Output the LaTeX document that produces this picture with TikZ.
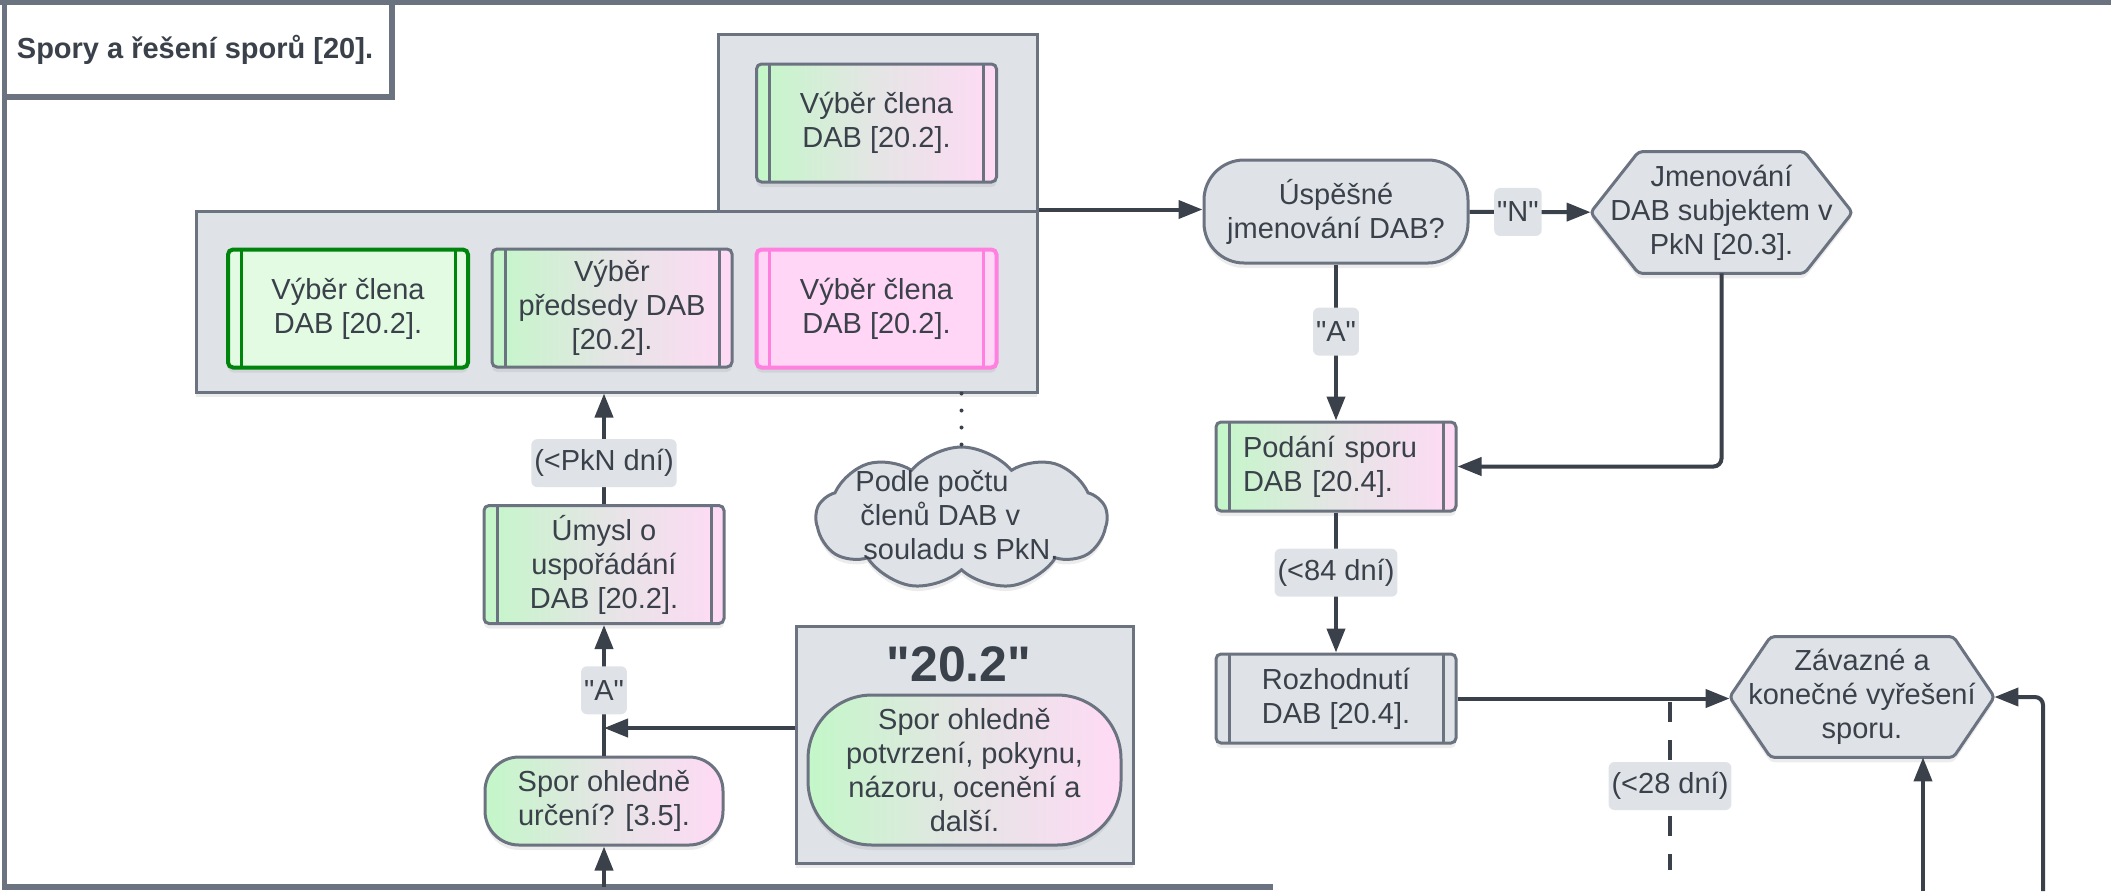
\documentclass[tikz,border=0pt]{standalone}
\usepackage{fontspec}
\setmainfont{Liberation Sans}[Ligatures=TeXOff]
\usetikzlibrary{arrows.meta,shapes.symbols,shadows,backgrounds}

\definecolor{edgegray}{RGB}{107,114,128}
\definecolor{boxgray}{RGB}{223,227,232}
\definecolor{ink}{RGB}{58,65,74}
\definecolor{okgreen}{RGB}{0,133,12}
\definecolor{okgreenfill}{RGB}{227,250,227}
\definecolor{hotpink}{RGB}{255,128,223}
\definecolor{hotpinkfill}{RGB}{255,214,245}
\definecolor{gradgreen}{RGB}{195,247,200}
\definecolor{gradmid}{RGB}{229,229,229}
\definecolor{gradpink}{RGB}{255,218,245}

\tikzset{
  txt/.style={text=ink, font=\fontsize{14.5}{17}\selectfont},
  shade/.style={drop shadow={opacity=.15, shadow xshift=0pt, shadow yshift=-2.5pt}},
  base/.style={txt, draw=edgegray, line width=1.5pt, align=center, inner sep=2pt, shade},
  grad/.style={left color=gradgreen, right color=gradpink, middle color=gradmid},
  proc/.style={base, rectangle, rounded corners=2.5pt, minimum width=120pt, minimum height=59pt,
    path picture={
      \draw[#1, line width=1.5pt]
        ([xshift=6.5pt]path picture bounding box.north west) -- ([xshift=6.5pt]path picture bounding box.south west)
        ([xshift=-6.5pt]path picture bounding box.north east) -- ([xshift=-6.5pt]path picture bounding box.south east);}},
  proc/.default=edgegray,
  term/.style={base, rectangle, rounded corners=#1},
  hexa/.style={txt, align=center, inner sep=2pt},
  hexline/.style={draw=edgegray, fill=boxgray, line width=1.5pt, rounded corners=2pt, shade},
  note/.style={base, cloud, cloud puffs=9, cloud puff arc=100, cloud ignores aspect, fill=boxgray},
  cont/.style={draw=edgegray, fill=boxgray, line width=1.5pt, shade},
  lbl/.style={txt, fill=boxgray, rounded corners=3pt, inner xsep=1.5pt, inner ysep=0pt, minimum height=24pt},
  arr/.style={draw=ink, line width=2pt, -{Triangle[length=12pt,width=9pt]}},
  frameline/.style={draw=edgegray, line width=2.8pt}
}
\newcommand{\q}[1]{"#1"}
% hexagon round a named node: node, slant
\newcommand{\hexframe}[2]{%
  \draw[hexline] (#1.west) -- ([xshift=#2]#1.north west) -- ([xshift=-#2]#1.north east)
    -- (#1.east) -- ([xshift=-#2]#1.south east) -- ([xshift=#2]#1.south west) -- cycle;}

\begin{document}
\begin{tikzpicture}[x=0.5pt, y=-0.5pt]
\useasboundingbox (0,0) rectangle (2111,891);

% frame and title
\draw[frameline] (0,2.5) -- (2111,2.5);
\draw[frameline] (4.5,0) -- (4.5,887) -- (1273,887);
\draw[frameline, fill=white] (4.5,2.5) rectangle (392,97);
\node[txt, font=\fontsize{14.5}{17}\selectfont\bfseries] (title) at (195,50) {Spory a řešení sporů [20].};

% groups
\node[cont, minimum width=159.5pt, minimum height=88.5pt] (grpA) at (877.5,122.5) {};
\node[cont, minimum width=420.5pt, minimum height=90.5pt] (grpB) at (616.5,301.5) {};
\node[cont, minimum width=168.5pt, minimum height=118.5pt] (grpC) at (964.5,744.5) {};
\node[txt, font=\fontsize{25}{28}\selectfont\bfseries] (grpCtitle) at (959,664) {\q{20.2}};

% boxes
\node[proc, grad] (vyberA) at (876.5,123) {Výběr člena\\DAB [20.2].};
\node[proc=okgreen, draw=okgreen, line width=2pt, fill=okgreenfill] (vyberG) at (348,308.5) {Výběr člena\\DAB [20.2].};
\node[proc, grad] (vyberP) at (612,308) {Výběr\\předsedy DAB\\{[20.2].}};
\node[proc=hotpink, draw=hotpink, line width=2pt, fill=hotpinkfill] (vyberR) at (876.5,308.5) {Výběr člena\\DAB [20.2].};
\node[proc, grad] (umysl) at (604,564.5) {Úmysl o\\uspořádání\\DAB [20.2].};
\node[term=17pt, grad, minimum width=119pt, minimum height=44pt] (spor) at (604,801) {Spor ohledně\\určení? [3.5].};
\node[term=32pt, grad, minimum width=156.5pt, minimum height=75pt] (sporB) at (964.5,770) {Spor ohledně\\potvrzení, pokynu,\\názoru, ocenění a\\další.};
\node[note, minimum width=145.5pt, minimum height=71.5pt] (cloud) at (961.5,518.5) {};
\node[txt, align=left] (cloudtxt) at (957,515) {Podle počtu\\\hspace{2.5pt}členů DAB v\\\hspace{4pt}souladu s PkN.};

\node[term=20pt, fill=boxgray, minimum width=132pt, minimum height=51.5pt] (dec) at (1336,211.5) {Úspěšné\\jmenování DAB?};
\node[hexa, minimum width=130.5pt, minimum height=60.5pt] (hexJ) at (1721.5,212.5) {Jmenování\\DAB subjektem v\\PkN [20.3].};
\node[proc, grad, minimum height=44.5pt, text width=93pt, align=left] (podani) at (1336,466.5) {Podání sporu\\DAB [20.4].};
\node[proc, fill=boxgray, minimum height=44.5pt] (rozh) at (1336,698.5) {Rozhodnutí\\DAB [20.4].};
\node[hexa, minimum width=132pt, minimum height=60pt] (zav) at (1862,697) {Závazné a\\konečné vyřešení\\sporu.};
\begin{scope}[on background layer]
\hexframe{hexJ}{24pt}
\hexframe{zav}{20.5pt}
\end{scope}

% free ends
\coordinate (j) at (604,728);
\coordinate (d1) at (1670,702);
\coordinate (d2) at (1670,870);
\coordinate (in1) at (1923,891);
\coordinate (in2) at (2043,891);
\coordinate (in3) at (604,887);

% connectors
\draw[arr] (grpB.north east) -- (grpB.north east -| dec.west);
\draw[arr] (dec) -- node[lbl, pos=.4] {\q{N}} (hexJ);
\draw[arr] (dec) -- node[lbl, pos=.43] {\q{A}} (podani);
\draw[arr, rounded corners=4pt] (hexJ.south) |- (podani.east);
\draw[arr] (podani) -- node[lbl, pos=.43] {(<84 dní)} (rozh);
\draw[arr] (rozh.east) -- (rozh.east -| zav.west);
\draw[draw=ink, line width=2pt, dash pattern=on 10pt off 9pt] (d1) -- node[lbl] {(<28 dní)} (d2);
\draw[arr] (in1) -- (in1 |- zav.south);
\draw[arr, rounded corners=4pt] (in2) |- (zav.east);
\draw[arr] (in3) -- (spor.south);
\draw[arr] (spor) -- node[lbl] {\q{A}} (umysl);
\draw[arr] (grpC.west |- j) -- (j);
\draw[arr] (umysl) -- node[lbl, pos=.37] {(<PkN dní)} (umysl |- grpB.south);
\draw[draw=ink, line width=2pt, line cap=round, dash pattern=on 0pt off 8.5pt] (cloud.north |- grpB.south) -- (cloud.north);
\end{tikzpicture}
\end{document}
